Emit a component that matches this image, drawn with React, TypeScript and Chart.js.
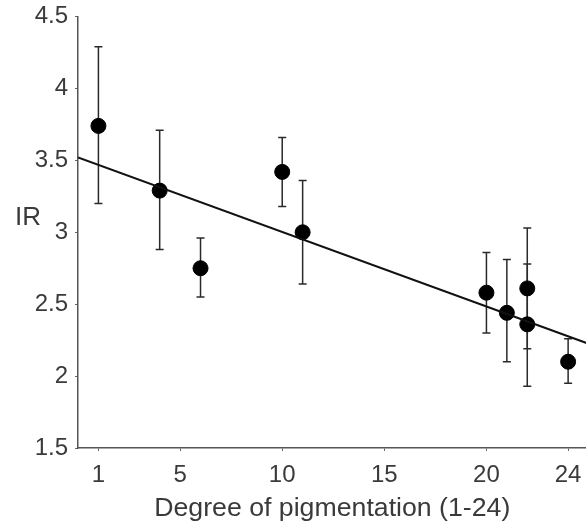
import React, { useEffect, useRef } from "react";
import { Chart, registerables } from "chart.js";

Chart.register(...registerables);

const pigmentX = [1, 4, 6, 10, 11, 20, 21, 22, 22, 24];
const irMean = [3.74, 3.29, 2.75, 3.42, 3.0, 2.58, 2.44, 2.61, 2.36, 2.1];
const irLow = [3.2, 2.88, 2.55, 3.18, 2.64, 2.3, 2.1, 2.19, 1.93, 1.95];
const irHigh = [4.29, 3.71, 2.96, 3.66, 3.36, 2.86, 2.81, 3.03, 2.78, 2.26];
const fitX = [0, 24.9];
const fitY = [3.52, 2.23];
const xTicks = [1, 5, 10, 15, 20, 24];
const yTicks = [1.5, 2, 2.5, 3, 3.5, 4, 4.5];

const FONT = "'Liberation Sans', Arial, sans-serif";
const TEXT = "#3a3a3a";

const errorBars = {
  id: "errorBars",
  beforeDatasetsDraw(chart: any) {
    const { ctx, scales } = chart;
    const xs = scales.x;
    const ys = scales.y;
    ctx.save();
    ctx.strokeStyle = "#2a2a2a";
    ctx.lineWidth = 1.5;
    for (let i = 0; i < pigmentX.length; i++) {
      const px = xs.getPixelForValue(pigmentX[i]);
      const pl = ys.getPixelForValue(irLow[i]);
      const ph = ys.getPixelForValue(irHigh[i]);
      ctx.beginPath();
      ctx.moveTo(px, pl);
      ctx.lineTo(px, ph);
      ctx.moveTo(px - 4, pl);
      ctx.lineTo(px + 4, pl);
      ctx.moveTo(px - 4, ph);
      ctx.lineTo(px + 4, ph);
      ctx.stroke();
    }
    ctx.restore();
  },
  afterDraw(chart: any) {
    const { ctx, chartArea, scales } = chart;
    ctx.save();
    ctx.fillStyle = TEXT;
    ctx.font = `26px ${FONT}`;
    ctx.textAlign = "center";
    ctx.textBaseline = "middle";
    ctx.fillText("IR", chartArea.left - 50, scales.y.getPixelForValue(3.1));
    ctx.restore();
  },
};

export default function App() {
  const ref = useRef<HTMLCanvasElement>(null);
  useEffect(() => {
    if (!ref.current) return;
    const chart = new Chart(ref.current, {
      type: "scatter",
      data: {
        datasets: [
          {
            type: "line",
            data: fitX.map((x, i) => ({ x, y: fitY[i] })),
            borderColor: "#111",
            borderWidth: 2,
            pointRadius: 0,
            fill: false,
          } as any,
          {
            data: pigmentX.map((x, i) => ({ x, y: irMean[i] })),
            backgroundColor: "#000",
            borderColor: "#000",
            pointRadius: 7.5,
            pointHoverRadius: 7.5,
          },
        ],
      },
      plugins: [errorBars],
      options: {
        animation: false,
        responsive: true,
        maintainAspectRatio: false,
        layout: { padding: { top: 15, right: 0, left: 0, bottom: 0 } },
        plugins: { legend: { display: false }, tooltip: { enabled: false } },
        scales: {
          x: {
            type: "linear",
            min: 0,
            max: 24.9,
            afterBuildTicks: (s: any) => {
              s.ticks = xTicks.map((v) => ({ value: v }));
            },
            afterFit: (s: any) => {
              s.height = 79;
            },
            grid: { drawOnChartArea: false, drawTicks: true, tickLength: 3, color: "#666", lineWidth: 1 },
            border: { color: "#555", width: 1.5 },
            ticks: {
              color: TEXT,
              font: { family: FONT, size: 24 },
              padding: 10,
              maxRotation: 0,
              autoSkip: false,
              callback: (v: any) => String(v),
            },
            title: {
              display: true,
              text: "Degree of pigmentation (1-24)",
              color: TEXT,
              font: { family: FONT, size: 26.7 },
              padding: { top: 0, bottom: 2 },
            },
          },
          y: {
            min: 1.5,
            max: 4.5,
            afterBuildTicks: (s: any) => {
              s.ticks = yTicks.map((v) => ({ value: v }));
            },
            afterFit: (s: any) => {
              s.width = 78;
            },
            grid: { drawOnChartArea: false, drawTicks: true, tickLength: 3, color: "#666", lineWidth: 1 },
            border: { color: "#555", width: 1.5 },
            ticks: {
              color: TEXT,
              font: { family: FONT, size: 24, lineHeight: 0.8 },
              padding: 7,
              callback: (v: any) => String(v),
            },
          },
        },
      },
    });
    return () => chart.destroy();
  }, []);
  return (
    <div style={{ position: "absolute", left: 0, top: 0, width: 586, height: 527, overflow: "hidden", background: "#fff" }}>
      <div style={{ position: "relative", width: 595, height: 527 }}>
        <canvas ref={ref} />
      </div>
    </div>
  );
}
